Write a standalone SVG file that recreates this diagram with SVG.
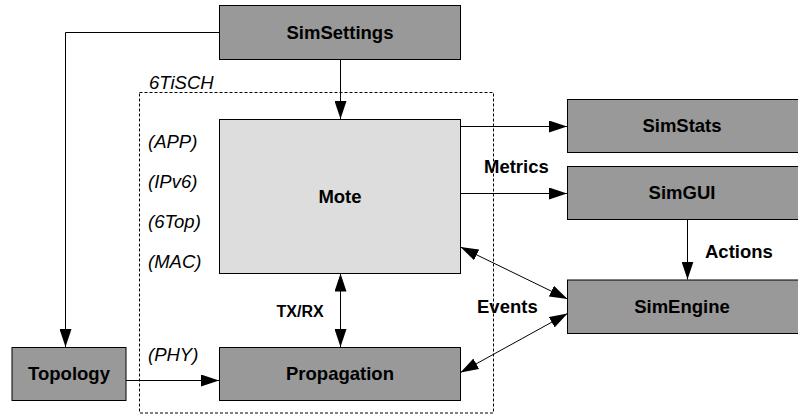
<svg xmlns="http://www.w3.org/2000/svg" width="798" height="416" viewBox="0 0 798 416">
<style>
.box{fill:#999999;stroke:#000;stroke-width:1}
.mote{fill:#dddddd;stroke:#000;stroke-width:1}
.t{font-family:"Liberation Sans",Arial,sans-serif;font-size:18.5px;font-weight:bold;fill:#000;text-anchor:middle}
.lbl{font-family:"Liberation Sans",Arial,sans-serif;font-size:18.5px;font-weight:bold;fill:#000}
.it{font-family:"Liberation Sans",Arial,sans-serif;font-size:18.5px;font-style:italic;fill:#000}
.c{fill:none;stroke:#000;stroke-width:1}
</style>
<defs>
<marker id="ah" viewBox="0 0 18 12" refX="18" refY="6" markerWidth="18" markerHeight="12" markerUnits="userSpaceOnUse" orient="auto-start-reverse">
<path d="M0,0 L18,6 L0,12 Z" fill="#000"/>
</marker>
</defs>
<rect width="798" height="416" fill="#fff"/>
<g id="container-6tisch">
<rect x="139.5" y="92.5" width="354" height="320.5" fill="none" stroke="#000" stroke-width="1" stroke-dasharray="3,2"/>
<text class="it" x="149" y="89">6TiSCH</text>
<text class="it" x="148" y="148">(APP)</text>
<text class="it" x="148" y="188">(IPv6)</text>
<text class="it" x="148" y="228">(6Top)</text>
<text class="it" x="148" y="268">(MAC)</text>
<text class="it" x="148" y="361">(PHY)</text>
</g>
<g id="connectors">
<path class="c" d="M219.5,32.5 H65.5 V347" marker-end="url(#ah)"/>
<path class="c" d="M340.5,59.5 V119" marker-end="url(#ah)"/>
<path class="c" d="M460,126.5 H567" marker-end="url(#ah)"/>
<path class="c" d="M460,193.5 H567" marker-end="url(#ah)"/>
<path class="c" d="M687.5,219.5 V279.5" marker-end="url(#ah)"/>
<path class="c" d="M460.5,247 L567.5,299" marker-start="url(#ah)" marker-end="url(#ah)"/>
<path class="c" d="M460.5,372.5 L567.5,313.5" marker-start="url(#ah)" marker-end="url(#ah)"/>
<path class="c" d="M340.5,273.5 V347" marker-start="url(#ah)" marker-end="url(#ah)"/>
<path class="c" d="M126,380.5 H219" marker-end="url(#ah)"/>
<text class="lbl" x="484" y="172.5">Metrics</text>
<text class="lbl" x="705" y="258">Actions</text>
<text class="lbl" x="477" y="313">Events</text>
<text class="lbl" x="276.5" y="317" style="font-size:16px">TX/RX</text>
</g>
<g id="SimSettings"><rect class="box" x="219.5" y="5.5" width="241" height="54"/><text class="t" x="340" y="39">SimSettings</text></g>
<g id="Mote"><rect class="mote" x="219.5" y="119.5" width="241" height="154"/><text class="t" x="340" y="202.5">Mote</text></g>
<g id="Propagation"><rect class="box" x="219.5" y="347.5" width="241" height="53"/><text class="t" x="340" y="380">Propagation</text></g>
<g id="Topology"><rect class="box" x="12" y="347.5" width="114" height="53"/><text class="t" x="69" y="380">Topology</text></g>
<g id="SimStats"><rect class="box" x="567.5" y="99.5" width="240" height="53"/><text class="t" x="682" y="132">SimStats</text></g>
<g id="SimGUI"><rect class="box" x="567.5" y="166.5" width="240" height="53"/><text class="t" x="682" y="199">SimGUI</text></g>
<g id="SimEngine"><rect class="box" x="567.5" y="280" width="240" height="53.5"/><text class="t" x="682" y="313">SimEngine</text></g>
</svg>
